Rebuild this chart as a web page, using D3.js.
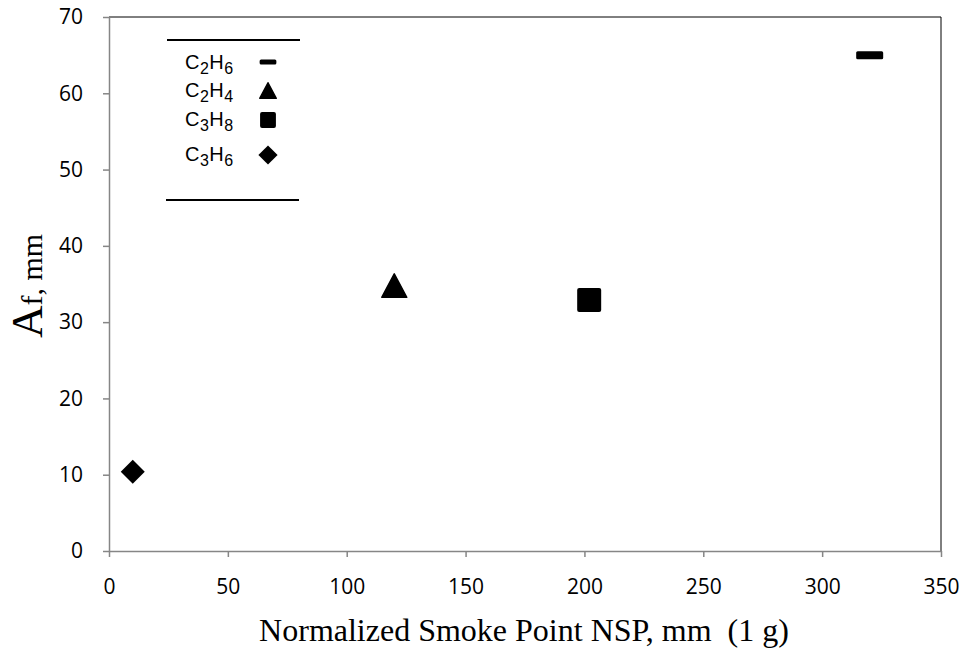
<!DOCTYPE html>
<html><head><meta charset="utf-8">
<script src="https://cdn.jsdelivr.net/npm/d3@7"></script>
<style>body{margin:0;background:#fff}</style>
</head><body>
<svg id="c" width="969" height="648"></svg>
<script>
const names = ["C2H6","C2H4","C3H8","C3H6"];
const labelParts = [["C","2","H","6"],["C","2","H","4"],["C","3","H","8"],["C","3","H","6"]];
const nspValues = [320, 120, 202, 10];
const afValues = [65, 34.7, 32.9, 10.4];
const markerShapes = ["dash","triangle","square","diamond"];
const xTicks = [0,50,100,150,200,250,300,350];
const yTicks = [0,10,20,30,40,50,60,70];

const svg = d3.select("#c");
const L=109,R=941,T=17,B=551;
const x = d3.scaleLinear().domain([0,350]).range([L,R]);
const y = d3.scaleLinear().domain([0,70]).range([B,T]);
const grey="#868686";

svg.append("line").attr("x1",L).attr("x2",R).attr("y1",T).attr("y2",T).attr("stroke","#000").attr("stroke-width",1);
svg.append("line").attr("x1",R).attr("x2",R).attr("y1",T).attr("y2",B).attr("stroke","#000").attr("stroke-width",1);

const xa = svg.append("g").attr("transform",`translate(0,${B})`)
  .call(d3.axisBottom(x).tickValues(xTicks).tickSize(6).tickSizeOuter(0).tickPadding(22));
const ya = svg.append("g").attr("transform",`translate(${L},0)`)
  .call(d3.axisLeft(y).tickValues(yTicks).tickSize(6).tickSizeOuter(0).tickPadding(20));
[xa,ya].forEach(a=>{
  a.attr("font-family","'Open Sans', sans-serif").attr("font-size",21);
  a.selectAll("path,line").attr("stroke",grey).attr("stroke-width",1.5);
  a.selectAll("text").attr("fill","#000");
});

function shape(g, s, cx, cy, k){
  if(s==="dash") g.append("rect").attr("x",cx-13.5*k).attr("y",cy-4*k).attr("width",27*k).attr("height",8*k).attr("rx",1.5);
  else if(s==="triangle") g.append("path").attr("d",`M${cx},${cy-12.5*k}L${cx+12.5*k},${cy+11*k}L${cx-12.5*k},${cy+11*k}Z`).attr("stroke","#000").attr("stroke-linejoin","round").attr("stroke-width",1.5);
  else if(s==="square") g.append("rect").attr("x",cx-12*k).attr("y",cy-12*k).attr("width",24*k).attr("height",24*k).attr("rx",2);
  else if(s==="diamond") g.append("path").attr("d",`M${cx},${cy-12*k}L${cx+12*k},${cy}L${cx},${cy+12*k}L${cx-12*k},${cy}Z`);
}
const pts = svg.append("g").attr("fill","#000");
names.forEach((n,i)=>shape(pts, markerShapes[i], x(nspValues[i]), y(afValues[i]), 1));

// legend
const lg = svg.append("g");
lg.append("line").attr("x1",167).attr("x2",300).attr("y1",40).attr("y2",40).attr("stroke","#000").attr("stroke-width",2);
lg.append("line").attr("x1",166).attr("x2",299).attr("y1",200).attr("y2",200).attr("stroke","#000").attr("stroke-width",2);
const markY=[62,91,120,155];
const textY=[69,97,126,161];
names.forEach((n,i)=>{
  const t = lg.append("text").attr("x",185).attr("y",textY[i]).attr("font-family","'Liberation Sans', Arial, sans-serif").attr("font-size",20).attr("letter-spacing",0.5).attr("fill","#000");
  const p = labelParts[i];
  t.append("tspan").text(p[0]);
  t.append("tspan").attr("font-size",16).attr("dy",5).text(p[1]);
  t.append("tspan").attr("dy",-5).text(p[2]);
  t.append("tspan").attr("font-size",16).attr("dy",5).text(p[3]);
  const g = lg.append("g").attr("fill","#000");
  const k = markerShapes[i]==="diamond"?0.8:(markerShapes[i]==="dash"?0.62:0.66);
  shape(g, markerShapes[i], 268, markY[i], k);
});

// axis titles
svg.append("text").attr("x",524).attr("y",641).attr("text-anchor","middle")
  .attr("font-family","'Liberation Serif', 'Times New Roman', serif").attr("font-size",32).text("Normalized Smoke Point NSP, mm  (1 g)").attr("xml:space","preserve").style("white-space","pre");
const yt = svg.append("text").attr("transform","translate(42,286) rotate(-90)").attr("text-anchor","middle")
  .attr("font-family","'Liberation Serif', 'Times New Roman', serif").attr("font-size",30);
yt.append("tspan").attr("font-size",45).text("A");
yt.append("tspan").text("f, mm");
</script>
</body></html>
